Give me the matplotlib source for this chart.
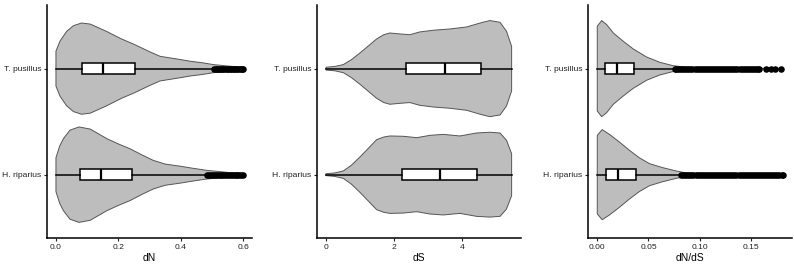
import matplotlib
matplotlib.use("Agg")
import matplotlib.pyplot as plt

plt.rcParams["font.family"] = ["Liberation Sans", "DejaVu Sans"]

groups = ["H. riparius", "T. pusillus"]   # y = 1, 2

# ---- violin outlines: value grid + half width (category units) ----
dn_x_hr = [0.0, 0.012, 0.024, 0.045, 0.074, 0.11, 0.163, 0.20, 0.237, 0.28, 0.312, 0.35, 0.398, 0.44, 0.483, 0.548, 0.60]
dn_w_hr = [0.16, 0.27, 0.34, 0.42, 0.45, 0.43, 0.34, 0.29, 0.245, 0.18, 0.135, 0.10, 0.08, 0.06, 0.041, 0.022, 0.01]
dn_x_tp = [0.0, 0.013, 0.034, 0.056, 0.082, 0.11, 0.163, 0.21, 0.25, 0.30, 0.334, 0.39, 0.43, 0.47, 0.505, 0.55, 0.60]
dn_w_tp = [0.165, 0.26, 0.35, 0.405, 0.43, 0.42, 0.35, 0.28, 0.23, 0.16, 0.116, 0.09, 0.07, 0.055, 0.038, 0.025, 0.012]

ds_x_hr = [0.0, 0.25, 0.51, 0.75, 1.0, 1.25, 1.49, 1.7, 1.88, 2.27, 2.67, 3.06, 3.45, 3.94, 4.43, 4.82, 5.12, 5.31, 5.46]
ds_w_hr = [0.009, 0.016, 0.035, 0.09, 0.167, 0.25, 0.33, 0.355, 0.365, 0.362, 0.349, 0.371, 0.38, 0.365, 0.393,
           0.40, 0.393, 0.324, 0.198]
ds_x_tp = [0.0, 0.25, 0.51, 0.75, 1.0, 1.25, 1.49, 1.7, 1.88, 2.18, 2.47, 2.76, 3.16, 3.65, 4.14, 4.53, 4.82, 5.12,
           5.31, 5.46]
ds_w_tp = [0.013, 0.02, 0.038, 0.085, 0.148, 0.215, 0.28, 0.32, 0.336, 0.327, 0.32, 0.346, 0.362, 0.374, 0.393,
           0.43, 0.453, 0.437, 0.352, 0.21]

dnds_x_hr = [0.0, 0.0048, 0.0119, 0.0216, 0.0314, 0.041, 0.051, 0.064, 0.077, 0.087, 0.12, 0.181]
dnds_w_hr = [0.37, 0.425, 0.38, 0.308, 0.23, 0.16, 0.104, 0.066, 0.035, 0.016, 0.006, 0.002]
dnds_x_tp = [0.0, 0.0043, 0.0092, 0.0157, 0.0254, 0.0351, 0.0481, 0.061, 0.074, 0.087, 0.12, 0.18]
dnds_w_tp = [0.40, 0.453, 0.415, 0.336, 0.258, 0.186, 0.11, 0.06, 0.028, 0.0126, 0.005, 0.002]

# ---- box stats: whislo, q1, med, q3, whishi ----
dn_box_hr = [0.0, 0.077, 0.146, 0.243, 0.483]
dn_box_tp = [0.0, 0.082, 0.152, 0.253, 0.505]
ds_box_hr = [0.0, 2.23, 3.35, 4.45, 5.46]
ds_box_tp = [0.0, 2.35, 3.50, 4.55, 5.46]
dnds_box_hr = [0.0, 0.0085, 0.0204, 0.0383, 0.081]
dnds_box_tp = [0.0, 0.0077, 0.019, 0.0358, 0.0755]

# ---- outliers ----
dn_out_hr = [0.486, 0.492, 0.498, 0.504, 0.510, 0.516, 0.522, 0.528, 0.534, 0.540, 0.546, 0.552,
             0.558, 0.564, 0.570, 0.576, 0.582, 0.588, 0.594, 0.600]
dn_out_tp = [0.507, 0.512, 0.517, 0.522, 0.527, 0.532, 0.537, 0.542, 0.547, 0.552, 0.557, 0.562,
             0.567, 0.572, 0.577, 0.582, 0.587, 0.592, 0.596, 0.600]
ds_out_hr = []
ds_out_tp = []
dnds_out_hr = [0.082, 0.084, 0.086, 0.088, 0.090, 0.092, 0.094, 0.096, 0.098, 0.100, 0.102, 0.104,
               0.106, 0.108, 0.110, 0.112, 0.114, 0.116, 0.118, 0.120, 0.122, 0.124, 0.126, 0.128,
               0.130, 0.132, 0.134, 0.136, 0.138, 0.140, 0.142, 0.144, 0.146, 0.148, 0.150, 0.152,
               0.154, 0.156, 0.158, 0.160, 0.162, 0.164, 0.166, 0.168, 0.170, 0.172, 0.174, 0.176,
               0.178, 0.180, 0.181]
dnds_out_tp = [0.0755, 0.077, 0.079, 0.081, 0.083, 0.085, 0.087, 0.089, 0.091, 0.093, 0.095, 0.097,
               0.099, 0.101, 0.103, 0.105, 0.107, 0.109, 0.111, 0.113, 0.115, 0.117, 0.119, 0.121,
               0.123, 0.125, 0.127, 0.129, 0.131, 0.133, 0.135, 0.137, 0.139, 0.141, 0.143, 0.145,
               0.147, 0.149, 0.151, 0.153, 0.155, 0.157, 0.158, 0.1646, 0.1695, 0.174, 0.1798]

panels = [
    dict(label="dN", ticks=[0.0, 0.2, 0.4, 0.6], fmt="{:.1f}",
         violins=[(dn_x_hr, dn_w_hr), (dn_x_tp, dn_w_tp)],
         boxes=[dn_box_hr, dn_box_tp], outs=[dn_out_hr, dn_out_tp]),
    dict(label="dS", ticks=[0, 2, 4], fmt="{:.0f}",
         violins=[(ds_x_hr, ds_w_hr), (ds_x_tp, ds_w_tp)],
         boxes=[ds_box_hr, ds_box_tp], outs=[ds_out_hr, ds_out_tp]),
    dict(label="dN/dS", ticks=[0.0, 0.05, 0.10, 0.15], fmt="{:.2f}",
         violins=[(dnds_x_hr, dnds_w_hr), (dnds_x_tp, dnds_w_tp)],
         boxes=[dnds_box_hr, dnds_box_tp], outs=[dnds_out_hr, dnds_out_tp]),
]

W, H = 794, 267
fig = plt.figure(figsize=(W / 100, H / 100), dpi=100)
lefts = [46.6, 316.7, 588.0]
widths = [205.8, 204.2, 203.8]

for p, left, width in zip(panels, lefts, widths):
    ax = fig.add_axes([left / W, 28.7 / H, width / W, 233.3 / H])
    lo, hi = float("inf"), float("-inf")
    for pos, (xs, ws) in enumerate(p["violins"], start=1):
        px = list(xs) + list(xs[::-1])
        py = [pos + w for w in ws] + [pos - w for w in ws[::-1]]
        ax.fill(px, py, facecolor="#bdbdbd", edgecolor="#555555", lw=0.7, zorder=1)
        lo, hi = min(lo, min(xs)), max(hi, max(xs))
    stats = []
    for b, o in zip(p["boxes"], p["outs"]):
        stats.append(dict(whislo=b[0], q1=b[1], med=b[2], q3=b[3], whishi=b[4], fliers=o))
    ax.bxp(stats, positions=[1, 2], widths=0.1, orientation="horizontal",
           patch_artist=True, showcaps=False, manage_ticks=False,
           boxprops=dict(facecolor="white", edgecolor="black", lw=1.1),
           whiskerprops=dict(color="black", lw=1.1),
           medianprops=dict(color="black", lw=1.6),
           flierprops=dict(marker="o", markerfacecolor="black", markeredgecolor="black",
                           markersize=3.7, linestyle="none"))
    pad = (hi - lo) * 0.05
    ax.set_xlim(lo - pad, hi + pad)
    ax.set_ylim(0.4, 2.6)
    ax.set_yticks([1, 2])
    ax.set_yticklabels(groups)
    ax.set_xticks(p["ticks"])
    ax.set_xticklabels([p["fmt"].format(t) for t in p["ticks"]])
    ax.set_xlabel(p["label"], fontsize=7.4, labelpad=1.5)
    ax.tick_params(labelsize=6.1, length=2.4, width=0.8, pad=1.5, colors="#222222")
    for s in ["top", "right"]:
        ax.spines[s].set_visible(False)
    for s in ["left", "bottom"]:
        ax.spines[s].set_linewidth(1.1)

fig.savefig("out.png", dpi=100)
